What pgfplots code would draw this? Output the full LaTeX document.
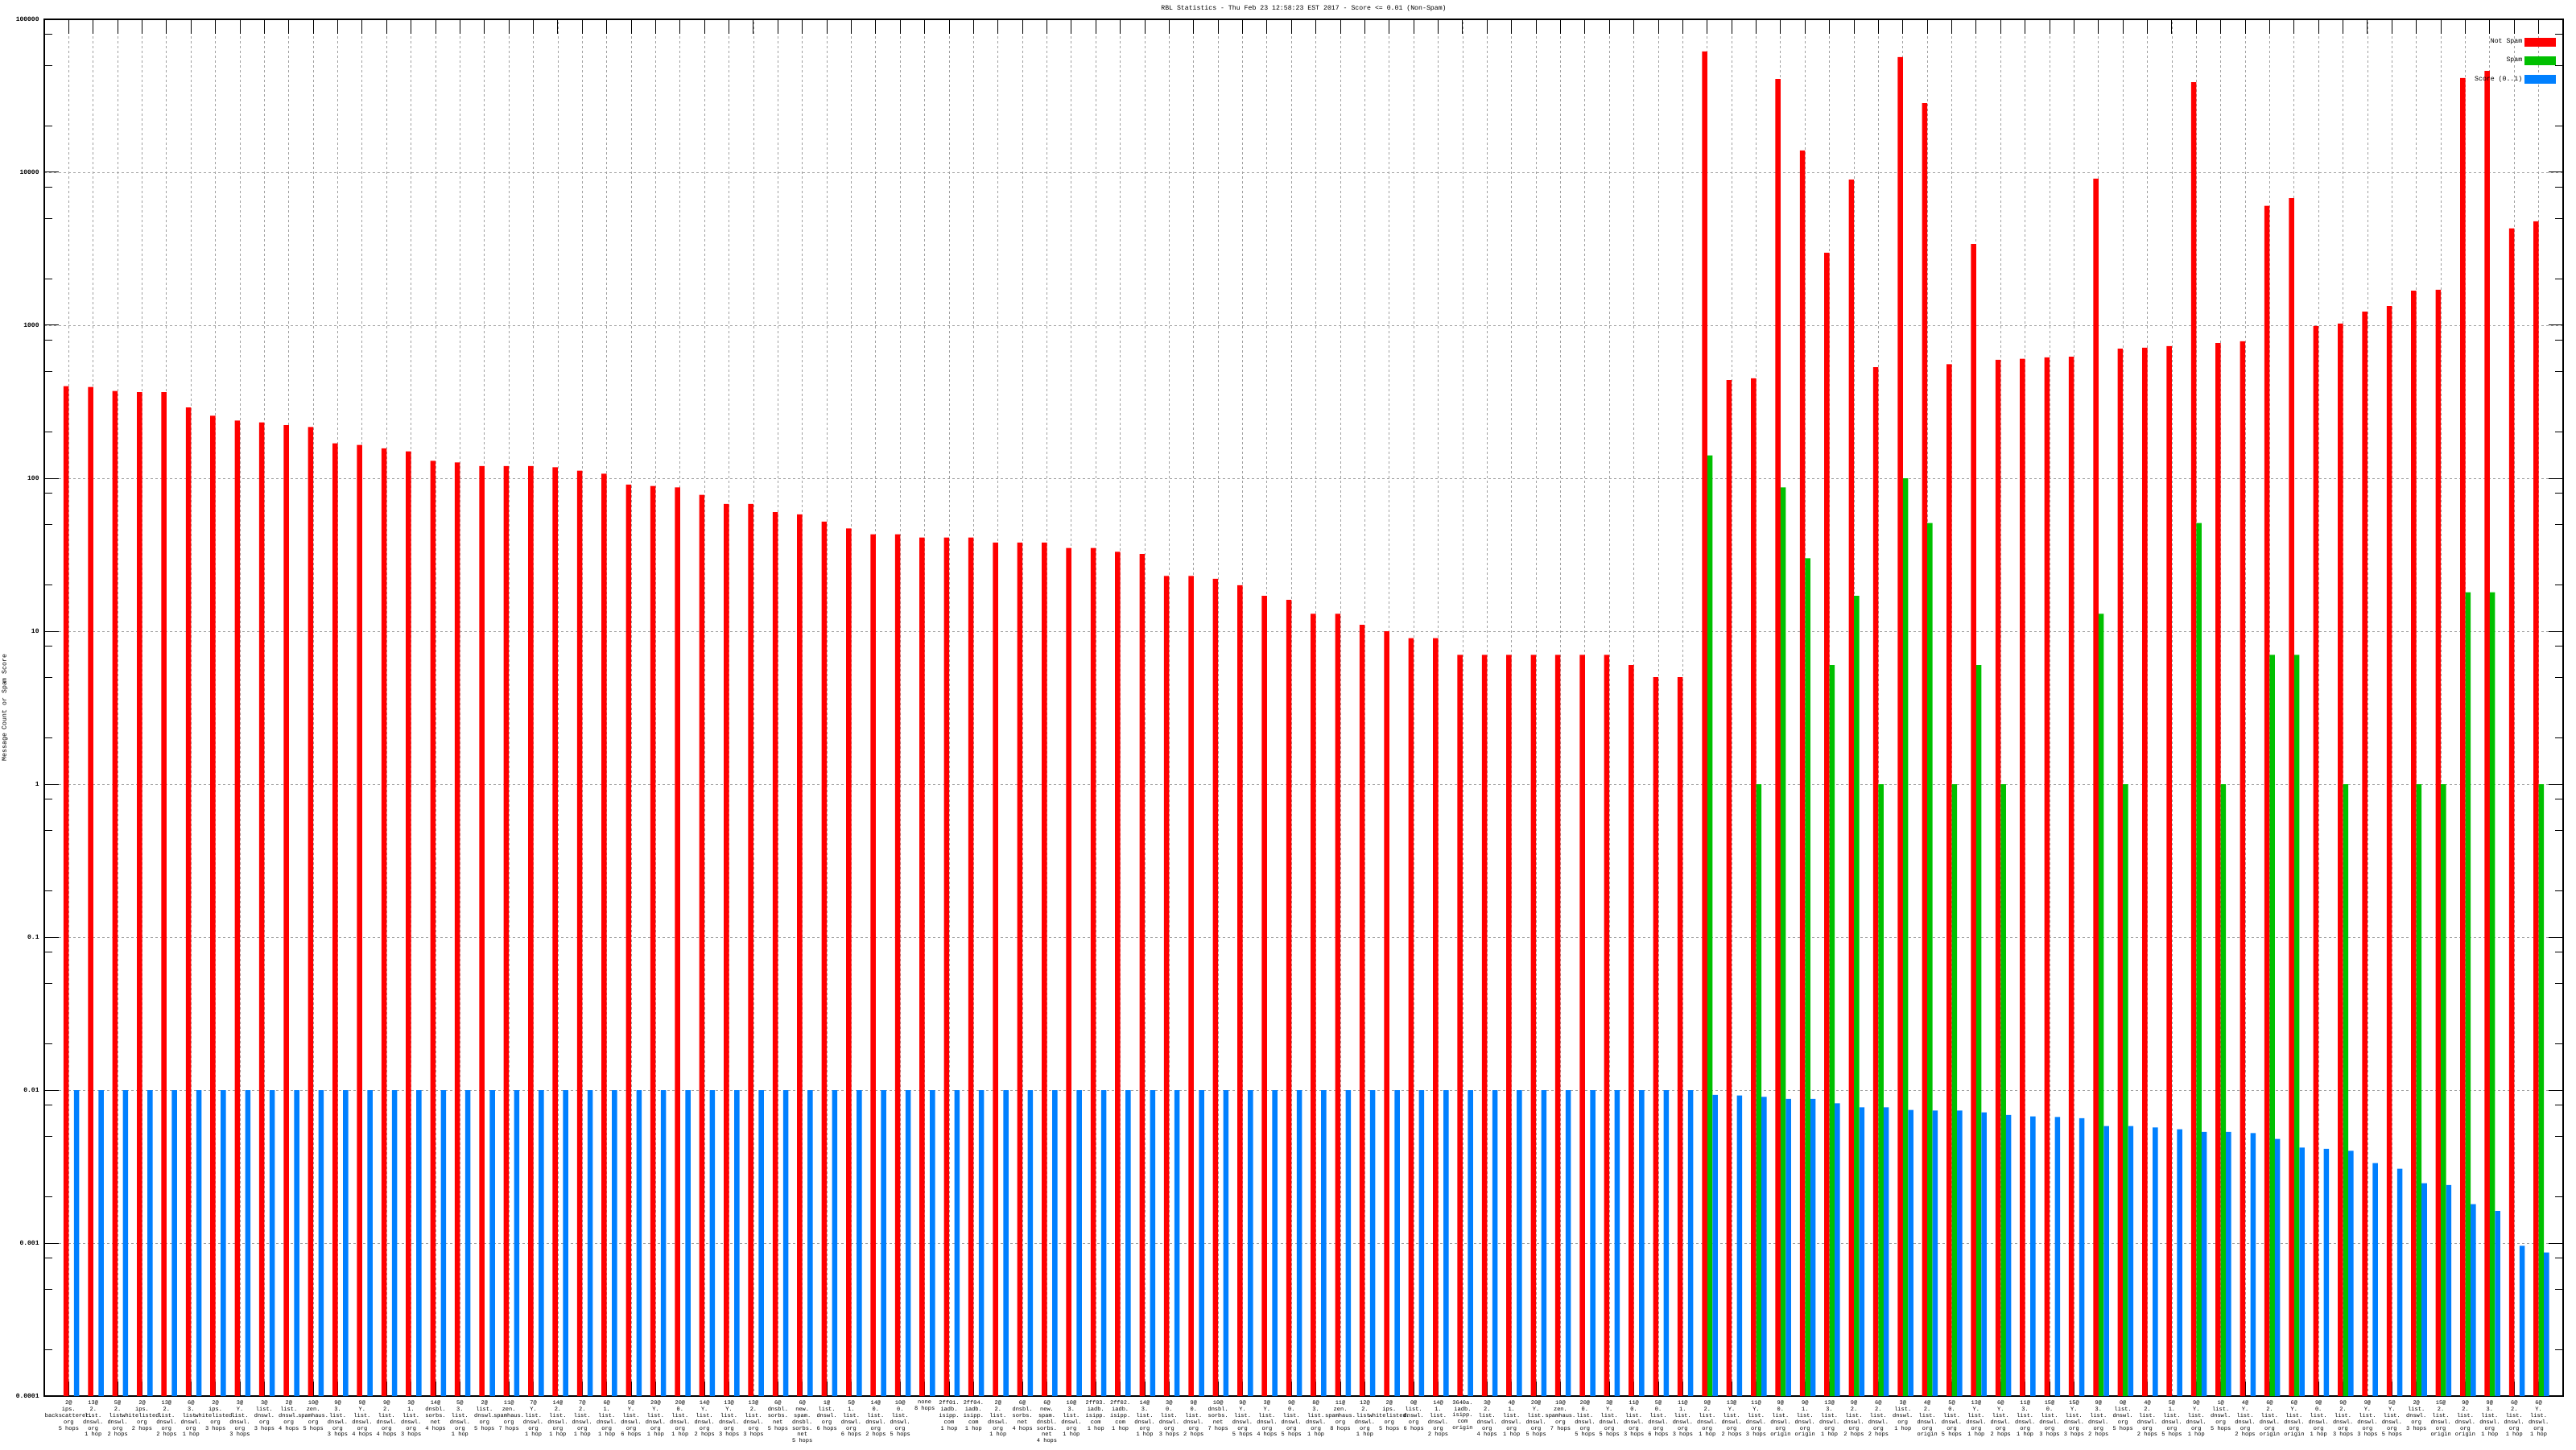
\documentclass[border=0pt]{standalone}
\usepackage{pgfplots}
\pgfplotsset{compat=1.18}
\usepackage{fontspec}
\setmainfont{Liberation Sans}
\newfontfamily\gmono{Liberation Mono}
\definecolor{cRed}{RGB}{255,0,0}
\definecolor{cGreen}{RGB}{0,192,0}
\definecolor{cBlue}{RGB}{0,128,255}
\definecolor{cGrid}{RGB}{160,160,160}
\newcommand\labfont{\fontsize{3.5}{3.95}\selectfont\gmono}
\newcommand\tickfont{\fontsize{4}{4.5}\selectfont\gmono\bfseries}
\newcommand\titfont{\fontsize{4.1}{4.5}\selectfont\gmono}
\begin{document}
\begin{tikzpicture}
\useasboundingbox (0,0) rectangle (1600pt,900pt);
\begin{axis}[
  at={(27.5pt,33pt)}, anchor=south west,
  scale only axis, width=1564.5pt, height=855pt,
  ymode=log, log origin=infty,
  xmin=-1, xmax=102, ymin=1e-4, ymax=1e5,
  enlargelimits=false,
  axis line style={line width=0.6pt, black},
  every tick/.style={line width=0.5pt, black},
  tick align=inside,
  major tick length=9pt, minor tick length=5pt,
  xtick={0,...,101},
  minor xtick={},
  ytick={1e-4,1e-3,0.01,0.1,1,10,100,1000,10000,100000},
  yticklabels={0.0001,0.001,0.01,0.1,1,10,100,1000,10000,100000},
  minor ytick={2e-4,5e-4,8e-4,2e-3,5e-3,8e-3,0.02,0.05,0.08,0.2,0.5,0.8,2,5,8,20,50,80,200,500,800,2000,5000,8000,20000,50000,80000},
  yticklabel style={font=\tickfont, anchor=east, inner sep=0pt, xshift=-3pt},
  xticklabel style={font=\labfont, align=center, anchor=north, inner sep=0pt, yshift=-2.5pt},
  grid=major,
  major grid style={cGrid, line width=0.45pt, dash pattern=on 1.5pt off 1.5pt},
  every axis title/.style={at={(0.5,1)}, anchor=south, inner sep=0pt, yshift=4.5pt, font=\titfont},
  title={RBL Statistics - Thu Feb 23 12:58:23 EST 2017 - Score <= 0.01 (Non-Spam)},
  every axis y label/.style={at={(axis description cs:-0.0157,0.5)}, rotate=90, anchor=center, font=\titfont},
  ylabel={Message Count or Spam Score},
  legend style={at={(1,1)}, anchor=north east, xshift=-4.5pt, yshift=-10.5pt, draw=none, fill=none, font=\titfont, row sep=5pt, inner sep=0pt, nodes={inner sep=1.2pt}},
  legend cell align=right,
  legend plot pos=right,
  legend image code/.code={\fill[#1] (0pt,-2.75pt) rectangle (19.5pt,2.75pt);},
  xticklabels={
{2@\\ips.\\backscatterer.\\org\\5 hops},
{13@\\2.\\list.\\dnswl.\\org\\1 hop},
{5@\\2.\\list.\\dnswl.\\org\\2 hops},
{2@\\ips.\\whitelisted.\\org\\2 hops},
{13@\\2.\\list.\\dnswl.\\org\\2 hops},
{6@\\3.\\list.\\dnswl.\\org\\1 hop},
{2@\\ips.\\whitelisted.\\org\\3 hops},
{3@\\Y.\\list.\\dnswl.\\org\\3 hops},
{3@\\list.\\dnswl.\\org\\3 hops},
{2@\\list.\\dnswl.\\org\\4 hops},
{10@\\zen.\\spamhaus.\\org\\5 hops},
{9@\\3.\\list.\\dnswl.\\org\\3 hops},
{9@\\Y.\\list.\\dnswl.\\org\\4 hops},
{9@\\2.\\list.\\dnswl.\\org\\4 hops},
{3@\\1.\\list.\\dnswl.\\org\\3 hops},
{14@\\dnsbl.\\sorbs.\\net\\4 hops},
{5@\\3.\\list.\\dnswl.\\org\\1 hop},
{2@\\list.\\dnswl.\\org\\5 hops},
{11@\\zen.\\spamhaus.\\org\\7 hops},
{7@\\Y.\\list.\\dnswl.\\org\\1 hop},
{14@\\2.\\list.\\dnswl.\\org\\1 hop},
{7@\\2.\\list.\\dnswl.\\org\\1 hop},
{6@\\1.\\list.\\dnswl.\\org\\1 hop},
{5@\\Y.\\list.\\dnswl.\\org\\6 hops},
{20@\\Y.\\list.\\dnswl.\\org\\1 hop},
{20@\\0.\\list.\\dnswl.\\org\\1 hop},
{14@\\Y.\\list.\\dnswl.\\org\\2 hops},
{13@\\Y.\\list.\\dnswl.\\org\\3 hops},
{13@\\2.\\list.\\dnswl.\\org\\3 hops},
{6@\\dnsbl.\\sorbs.\\net\\5 hops},
{6@\\new.\\spam.\\dnsbl.\\sorbs.\\net\\5 hops},
{1@\\list.\\dnswl.\\org\\6 hops},
{5@\\1.\\list.\\dnswl.\\org\\6 hops},
{14@\\0.\\list.\\dnswl.\\org\\2 hops},
{10@\\0.\\list.\\dnswl.\\org\\5 hops},
{none\\8 hops},
{2ff01.\\iadb.\\isipp.\\com\\1 hop},
{2ff04.\\iadb.\\isipp.\\com\\1 hop},
{2@\\2.\\list.\\dnswl.\\org\\1 hop},
{6@\\dnsbl.\\sorbs.\\net\\4 hops},
{6@\\new.\\spam.\\dnsbl.\\sorbs.\\net\\4 hops},
{10@\\3.\\list.\\dnswl.\\org\\1 hop},
{2ff03.\\iadb.\\isipp.\\com\\1 hop},
{2ff02.\\iadb.\\isipp.\\com\\1 hop},
{14@\\3.\\list.\\dnswl.\\org\\1 hop},
{3@\\0.\\list.\\dnswl.\\org\\3 hops},
{9@\\0.\\list.\\dnswl.\\org\\2 hops},
{10@\\dnsbl.\\sorbs.\\net\\7 hops},
{9@\\Y.\\list.\\dnswl.\\org\\5 hops},
{3@\\Y.\\list.\\dnswl.\\org\\4 hops},
{9@\\0.\\list.\\dnswl.\\org\\5 hops},
{8@\\3.\\list.\\dnswl.\\org\\1 hop},
{11@\\zen.\\spamhaus.\\org\\8 hops},
{12@\\2.\\list.\\dnswl.\\org\\1 hop},
{2@\\ips.\\whitelisted.\\org\\5 hops},
{0@\\list.\\dnswl.\\org\\6 hops},
{14@\\1.\\list.\\dnswl.\\org\\2 hops},
{3640a.\\iadb.\\isipp.\\com\\origin},
{3@\\2.\\list.\\dnswl.\\org\\4 hops},
{4@\\1.\\list.\\dnswl.\\org\\1 hop},
{20@\\Y.\\list.\\dnswl.\\org\\5 hops},
{10@\\zen.\\spamhaus.\\org\\7 hops},
{20@\\0.\\list.\\dnswl.\\org\\5 hops},
{3@\\Y.\\list.\\dnswl.\\org\\5 hops},
{11@\\0.\\list.\\dnswl.\\org\\3 hops},
{5@\\0.\\list.\\dnswl.\\org\\6 hops},
{11@\\1.\\list.\\dnswl.\\org\\3 hops},
{9@\\2.\\list.\\dnswl.\\org\\1 hop},
{13@\\Y.\\list.\\dnswl.\\org\\2 hops},
{11@\\Y.\\list.\\dnswl.\\org\\3 hops},
{9@\\0.\\list.\\dnswl.\\org\\origin},
{9@\\1.\\list.\\dnswl.\\org\\origin},
{13@\\3.\\list.\\dnswl.\\org\\1 hop},
{9@\\2.\\list.\\dnswl.\\org\\2 hops},
{6@\\2.\\list.\\dnswl.\\org\\2 hops},
{3@\\list.\\dnswl.\\org\\1 hop},
{4@\\2.\\list.\\dnswl.\\org\\origin},
{5@\\0.\\list.\\dnswl.\\org\\5 hops},
{13@\\Y.\\list.\\dnswl.\\org\\1 hop},
{6@\\Y.\\list.\\dnswl.\\org\\2 hops},
{11@\\3.\\list.\\dnswl.\\org\\1 hop},
{15@\\0.\\list.\\dnswl.\\org\\3 hops},
{15@\\Y.\\list.\\dnswl.\\org\\3 hops},
{9@\\3.\\list.\\dnswl.\\org\\2 hops},
{0@\\list.\\dnswl.\\org\\5 hops},
{4@\\2.\\list.\\dnswl.\\org\\2 hops},
{5@\\1.\\list.\\dnswl.\\org\\5 hops},
{9@\\Y.\\list.\\dnswl.\\org\\1 hop},
{1@\\list.\\dnswl.\\org\\5 hops},
{4@\\Y.\\list.\\dnswl.\\org\\2 hops},
{6@\\2.\\list.\\dnswl.\\org\\origin},
{6@\\Y.\\list.\\dnswl.\\org\\origin},
{9@\\0.\\list.\\dnswl.\\org\\1 hop},
{9@\\2.\\list.\\dnswl.\\org\\3 hops},
{9@\\Y.\\list.\\dnswl.\\org\\3 hops},
{5@\\Y.\\list.\\dnswl.\\org\\5 hops},
{2@\\list.\\dnswl.\\org\\3 hops},
{15@\\2.\\list.\\dnswl.\\org\\origin},
{9@\\2.\\list.\\dnswl.\\org\\origin},
{9@\\3.\\list.\\dnswl.\\org\\1 hop},
{6@\\2.\\list.\\dnswl.\\org\\1 hop},
{6@\\Y.\\list.\\dnswl.\\org\\1 hop}
  },
]
\addplot[ybar, bar width=0.214, bar shift=-0.107, fill=cRed, draw=none] coordinates {
(0,400)(1,395)(2,372)(3,365)(4,365)(5,290)(6,256)(7,238)(8,232)(9,222)
(10,216)(11,169)(12,165)(13,157)(14,150)(15,130)(16,127)(17,120)(18,120)(19,120)
(20,118)(21,112)(22,107)(23,91)(24,89)(25,87)(26,78)(27,68)(28,68)(29,60)
(30,58)(31,52)(32,47)(33,43)(34,43)(35,41)(36,41)(37,41)(38,38)(39,38)
(40,38)(41,35)(42,35)(43,33)(44,32)(45,23)(46,23)(47,22)(48,20)(49,17)
(50,16)(51,13)(52,13)(53,11)(54,10)(55,9)(56,9)(57,7)(58,7)(59,7)
(60,7)(61,7)(62,7)(63,7)(64,6)(65,5)(66,5)(67,61600)(68,438)(69,450)
(70,40700)(71,13900)(72,2985)(73,8950)(74,532)(75,56700)(76,28300)(77,557)(78,3400)(79,594)
(80,603)(81,617)(82,622)(83,9080)(84,703)(85,714)(86,731)(87,38800)(88,766)(89,785)
(90,6040)(91,6770)(92,988)(93,1027)(94,1228)(95,1336)(96,1683)(97,1709)(98,41300)(99,46000)
(100,4295)(101,4784)
};
\addlegendentry{Not Spam}
\addplot[ybar, bar width=0.214, bar shift=0.107, fill=cGreen, draw=none] coordinates {
(67,141)(69,1)(70,87)(71,30)(72,6)(73,17)(74,1)(75,100)(76,51)(77,1)(78,6)(79,1)
(83,13)(84,1)(87,51)(88,1)(90,7)(91,7)(93,1)(96,1)(97,1)(98,18)(99,18)(101,1)
};
\addlegendentry{Spam}
\addplot[ybar, bar width=0.214, bar shift=0.321, fill=cBlue, draw=none] coordinates {
(0,0.01)(1,0.01)(2,0.01)(3,0.01)(4,0.01)(5,0.01)(6,0.01)(7,0.01)(8,0.01)(9,0.01)
(10,0.01)(11,0.01)(12,0.01)(13,0.01)(14,0.01)(15,0.01)(16,0.01)(17,0.01)(18,0.01)(19,0.01)
(20,0.01)(21,0.01)(22,0.01)(23,0.01)(24,0.01)(25,0.01)(26,0.01)(27,0.01)(28,0.01)(29,0.01)
(30,0.01)(31,0.01)(32,0.01)(33,0.01)(34,0.01)(35,0.01)(36,0.01)(37,0.01)(38,0.01)(39,0.01)
(40,0.01)(41,0.01)(42,0.01)(43,0.01)(44,0.01)(45,0.01)(46,0.01)(47,0.01)(48,0.01)(49,0.01)
(50,0.01)(51,0.01)(52,0.01)(53,0.01)(54,0.01)(55,0.01)(56,0.01)(57,0.01)(58,0.01)(59,0.01)
(60,0.01)(61,0.01)(62,0.01)(63,0.01)(64,0.01)(65,0.01)(66,0.01)(67,0.00932)(68,0.00922)(69,0.00903)
(70,0.00878)(71,0.00878)(72,0.00819)(73,0.00771)(74,0.00771)(75,0.00743)(76,0.00735)(77,0.00735)(78,0.00715)(79,0.00689)
(80,0.00674)(81,0.00667)(82,0.00656)(83,0.00582)(84,0.00582)(85,0.00570)(86,0.00554)(87,0.00534)(88,0.00534)(89,0.00523)
(90,0.00480)(91,0.00421)(92,0.00414)(93,0.00401)(94,0.00334)(95,0.00306)(96,0.00246)(97,0.00240)(98,0.00180)(99,0.00162)
(100,0.00096)(101,0.00087)
};
\addlegendentry{Score (0..1)}
\end{axis}
\end{tikzpicture}
\end{document}
